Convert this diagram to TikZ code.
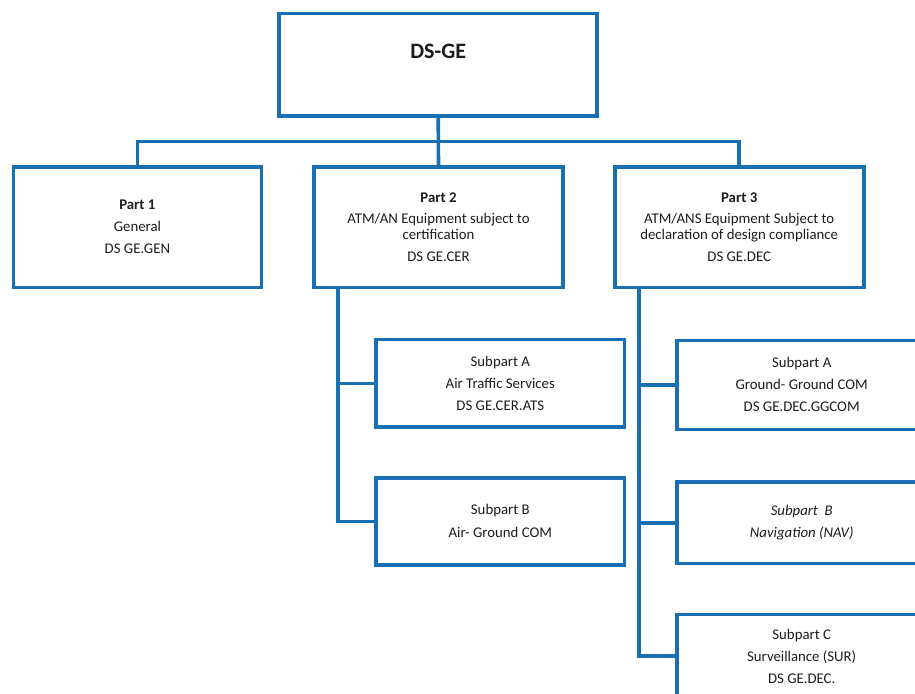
\documentclass[tikz,border=0pt]{standalone}
\usepackage{fontspec}
\setmainfont{Carlito}
\usetikzlibrary{calc}
\definecolor{frame}{RGB}{24,112,178}
\definecolor{ink}{RGB}{28,28,28}
\begin{document}
\begin{tikzpicture}[x=1pt,y=-1pt,
  box/.style={draw=frame, line width=3.6pt, rectangle, inner sep=0pt,
    align=center, text=ink, font=\fontsize{14.8}{16}\selectfont},
  link/.style={draw=frame, line width=3.6pt}]
\useasboundingbox (0,0) rectangle (915,693);
\clip (0,0) rectangle (915,693);

% root
\node[box, minimum width=318pt, minimum height=102pt] (root) at (438.2,64.7) {};
\node[text=ink, font=\fontsize{22}{24}\selectfont\bfseries] (rootlabel) at (438.2,51) {DS-GE};

% parts
\node[box, minimum width=248pt, minimum height=120.5pt] (p1) at (137.4,227.2)
  {\textbf{Part 1}\\[6pt]General\\[6pt]DS GE.GEN};
\node[box, minimum width=249pt, minimum height=120.5pt] (p2) at (438.5,227.2)
  {\textbf{Part 2}\\[5pt]ATM/AN Equipment subject to\\certification\\[6pt]DS GE.CER};
\node[box, minimum width=249pt, minimum height=120.5pt] (p3) at (739.2,227.2)
  {\textbf{Part 3}\\[5pt]ATM/ANS Equipment Subject to\\declaration of design compliance\\[6pt]DS GE.DEC};

% subparts of part 2
\node[box, minimum width=248.7pt, minimum height=87.7pt] (ca) at (500.3,383.3)
  {Subpart A\\[6pt]Air Traffic Services\\[6pt]DS GE.CER.ATS};
\node[box, minimum width=248.7pt, minimum height=87pt] (cb) at (500.3,521.3)
  {Subpart B\\[7pt]Air- Ground COM};

% subparts of part 3
\node[box, minimum width=249pt, minimum height=89pt] (da) at (801.7,384.8)
  {Subpart A\\[6pt]Ground- Ground COM\\[6pt]DS GE.DEC.GGCOM};
\node[box, minimum width=249pt, minimum height=81.4pt] (db) at (801.7,522.7)
  {\itshape Subpart\ \ B\\[6pt]\itshape Navigation (NAV)};
\node[box, minimum width=249pt, minimum height=83pt] (dc) at (801.7,656)
  {Subpart C\\[6pt]Surveillance (SUR)\\[6pt]DS GE.DEC.};

% root to parts
\coordinate (hub) at ($(root.south)!.5!(p2.north)$);
\draw[link] (root.south) -- (p2.north);
\draw[link] (p1.north) |- (hub) -| (p3.north);

% part 2 spine
\coordinate (s2) at ([xshift=25.5pt]p2.south west);
\draw[link] (s2) |- (cb.west);
\draw[link] (s2 |- ca.west) -- (ca.west);

% part 3 spine
\coordinate (s3) at ([xshift=25.8pt]p3.south west);
\draw[link] (s3) |- (dc.west);
\draw[link] (s3 |- da.west) -- (da.west);
\draw[link] (s3 |- db.west) -- (db.west);
\end{tikzpicture}
\end{document}
